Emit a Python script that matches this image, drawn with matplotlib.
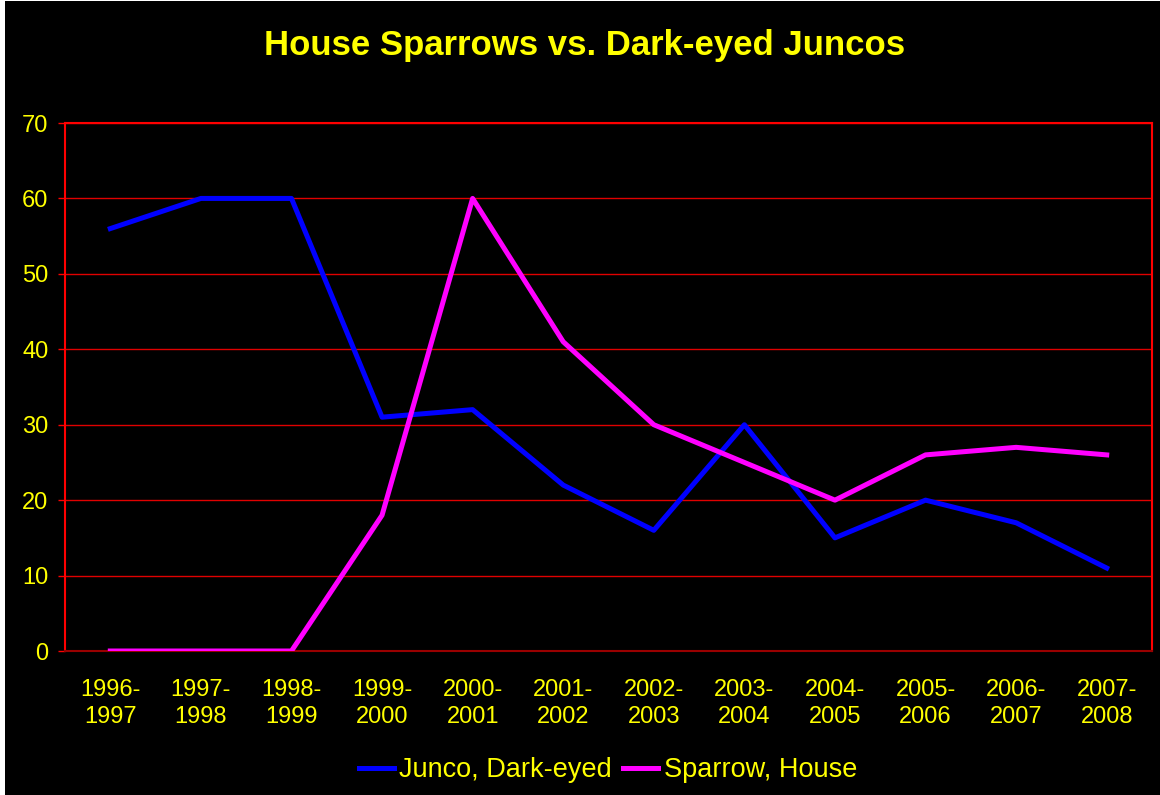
import matplotlib.pyplot as plt
import matplotlib.patches as mpatches

plt.rcParams['font.family'] = ['Liberation Sans', 'DejaVu Sans']

# Data
seasons = ["1996-\n1997", "1997-\n1998", "1998-\n1999", "1999-\n2000", "2000-\n2001",
           "2001-\n2002", "2002-\n2003", "2003-\n2004", "2004-\n2005", "2005-\n2006",
           "2006-\n2007", "2007-\n2008"]
junco = [56, 60, 60, 31, 32, 22, 16, 30, 15, 20, 17, 11]
sparrow = [0, 0, 0, 18, 60, 41, 30, 25, 20, 26, 27, 26]

fig = plt.figure(figsize=(11.6, 7.95), dpi=100, facecolor='white')
# black chart area with thin white strip on the left like the source
fig.patches.append(mpatches.Rectangle((5 / 1160, 0), 1, 1 - 1 / 795, transform=fig.transFigure,
                                      facecolor='black', edgecolor='none', zorder=-10))

ax = fig.add_axes([65 / 1160, 1 - 651 / 795, (1152 - 65) / 1160, (651 - 123) / 795])
ax.set_zorder(1)
ax.set_facecolor('black')

x = range(len(seasons))
ax.plot(x, junco, color='#0000FF', lw=3.6, label='Junco, Dark-eyed', zorder=3)
ax.plot(x, sparrow, color='#FF00FF', lw=3.6, label='Sparrow, House', zorder=3)

ax.set_xlim(-0.5, len(seasons) - 0.5)
ax.set_ylim(0, 70)
ax.set_yticks(range(0, 71, 10))
ax.set_xticks(list(x))
ax.set_xticklabels(seasons)

ax.grid(axis='y', color='#E00000', lw=1.0, zorder=1)
for s in ax.spines.values():
    s.set_color('#FF0000')
    s.set_linewidth(1.5)
ax.spines['bottom'].set_color('#990000')

ax.tick_params(axis='y', colors='#FF0000', labelcolor='#FFFF00', labelsize=17,
               length=5, width=1, pad=7)
ax.tick_params(axis='x', labelcolor='#FFFF00', labelsize=17, length=0, pad=20)
for t in ax.get_xticklabels():
    t.set_linespacing(1.3)

fig.text(0.504, 1 - 45 / 795, "House Sparrows vs. Dark-eyed Juncos", color='#FFFF00',
         fontsize=25, fontweight='bold', ha='center', va='center')

leg = fig.legend(loc='center', bbox_to_anchor=(0.524, 1 - 770 / 795), ncol=2,
                 frameon=False, fontsize=19.5, handlelength=1.3, handletextpad=0.2,
                 columnspacing=0.4)
for t in leg.get_texts():
    t.set_color('#FFFF00')

fig.savefig('out.png', dpi=100, facecolor=fig.get_facecolor())
